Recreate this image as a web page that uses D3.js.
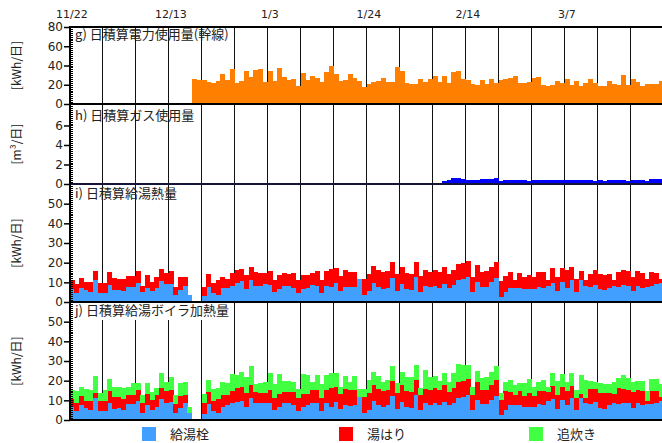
<!DOCTYPE html>
<html>
<head>
<meta charset="utf-8">
<script src="https://cdn.jsdelivr.net/npm/d3@7"></script>
<style>
  body { margin: 0; background: #fff; }
  svg { display: block; font-family: "Noto Sans CJK JP", "DejaVu Sans", sans-serif; }
</style>
</head>
<body>
<svg id="chart" width="662" height="443"></svg>
<script>
// ---- data -------------------------------------------------------------
// daily records from 11/22 (day 0) through 3/28 (day 125)
const dayCount = 126;
const dateTicks = [0, 21, 42, 63, 84, 105];
const dateTickLabels = ["11/22", "12/13", "1/3", "1/24", "2/14", "3/7"];

// g) daily electricity, main line [kWh/day], recorded from day 26
const elecStart = 26;
const elecValues = [
  26,25,25,23,22,24,31,25,36,22,24,34,28,35,36,23,34,24,37,28,25,26,19,32,25,29,27,23,33,39,31,24,25,
  31,27,24,18,21,23,24,27,23,23,38,34,22,21,21,26,23,26,29,23,29,22,33,34,26,25,21,20,25,21,26,22,25,
  26,27,29,22,22,23,27,28,20,19,20,24,22,26,20,24,19,22,26,22,19,19,24,21,20,30,20,26,23,19,21,21,21,24
];

// h) daily gas [m3/day], recorded from day 79
const gasStart = 79;
const gasValues = [
  0.35,0.45,0.6,0.6,0.55,0.45,0.4,0.45,0.5,0.5,0.5,0.6,0.3,0.4,0.45,0.45,0.4,0.4,0.35,0.4,
  0.45,0.4,0.4,0.45,0.4,0.45,0.4,0.4,0.45,0.45,0.4,0.4,0.35,0.4,0.35,0.45,0.45,0.4,0.4,0.35,
  0.45,0.4,0.4,0.35,0.5,0.5,0.5
];

// i) daily hot-water heat [kWh/day]: tap / bath filling (null = no record)
const heatTap = [
  6.7,4.7,7.2,6.2,5.2,11.3,4.7,4.7,8.7,5.9,6.2,5.7,7.7,7.7,9.7,5.2,7.2,5.7,7.2,10.6,9.2,9.2,3.7,6.2,8.2,3.7,
  null,null,
  3.2,7.7,4.7,3.7,7.2,7.2,8.2,9.7,10.6,6.7,11.3,8.2,8.2,9.2,8.7,5.2,6.7,8.2,8.2,7.2,4.7,6.7,7.2,8.7,8.2,4.7,8.2,
  7.6,9.7,5.7,7.7,7.7,7.4,11.8,3.7,5.7,9.7, 7.7,6.7,7.2,12.3,5.7,9.2,6.7,6.2,12.8,5.2,
  8.2,7.7,8.2,7.2,9.2,7.2,8.7,11.3,11.8,12.8, 5.2,10.3,7.7,7.7,10.3,12.3,2.7,5.2,7.2,7.2,
  7.2,6.7,6.7,6.7,7.7,7.2,8.2,9.7,5.7,10.3, 7.2,11.3,5.2,11.3,8.2,7.7,8.7,6.7,6.2,7.2,
  8.2,7.7,8.7,8.2,5.7,8.2,7.2,7.7,8.2,9.2, 9.7
];
const heatBath = [
  4.4,4.4,4.9,3.9,4.9,4.3,4.9,4.9,6.4,6.2,5.4,5.9,5.4,5.4,5.9,3.0,6.4,4.6,5.4,6.0,5.4,6.4,4.0,6.4,4.4,0,
  null,null,
  4.5,6.4,4.9,7.4,5.4,4.4,6.4,6.4,6.0,6.9,6.3,6.9,6.4,5.4,6.9,5.9,6.9,6.4,5.9,7.4,6.4,6.9,6.4,5.9,7.4,6.4,7.4,
  9.0,7.4,7.4,8.4,7.6,7.9,0,8.1,8.6,8.6, 8.4,8.4,8.6,8.0,8.6,8.6,8.1,8.1,7.5,8.1,
  8.1,7.6,8.1,8.1,8.6,7.1,7.6,8.0,8.0,8.0, 7.6,8.5,7.6,8.1,7.5,8.0,8.1,8.1,8.1,4.1,
  7.6,6.1,7.1,6.1,7.6,8.1,3.1,7.6,7.1,7.0, 9.1,6.5,6.6,4.5,3.1,6.6,7.6,7.6,7.6,7.1,
  3.1,7.6,7.6,7.6,7.1,7.6,7.6,4.1,7.1,5.6, 2.1
];

// j) daily boiler heating [kWh/day]: tap / bath filling / reheating
const boilTap = [
  6.8,4.8,7.4,6.3,5.3,11.3,4.8,4.8,8.7,5.8,6.3,5.3,7.9,7.9,9.8,3.8,7.4,5.3,6.8,10.8,8.7,9.2,3.8,6.3,8.4,3.8,
  null,null,
  3.3,7.9,4.8,3.8,6.8,7.4,8.4,9.2,9.8,6.8,11.3,8.4,8.4,8.7,8.7,5.3,6.8,8.4,8.4,7.4,4.8,6.8,7.4,8.4,8.4,4.8,8.4,
  6.8,9.4,5.8,7.4,7.2,7.4,11.8,3.8,5.3,9.8, 7.4,6.8,7.4,12.3,5.8,9.4,6.8,6.3,12.8,5.3,
  8.4,7.4,8.4,7.4,9.4,7.4,8.7,11.3,11.8,12.8, 5.3,10.3,7.9,7.9,10.3,12.3,2.7,5.3,7.4,7.4,
  7.4,6.8,6.8,6.8,7.9,7.4,9.8,10.8,5.8,10.3, 7.4,11.3,5.3,11.3,8.4,7.9,9.4,6.3,5.8,7.4,
  8.4,7.9,8.7,8.4,6.3,8.4,7.4,7.9,7.9,8.7, 9.8
];
const boilBath = [
  4.0,3.6,4.9,3.5,4.5,2.6,5.0,5.0,6.2,6.0,5.5,5.5,4.9,4.9,5.6,4.6,6.0,5.0,6.0,5.6,6.2,6.2,4.1,6.0,4.4,0,
  null,null,
  5.1,6.5,5.0,7.0,6.0,5.4,6.5,7.2,7.2,7.1,6.7,6.0,5.5,5.2,6.7,6.0,6.6,6.0,6.0,7.0,6.5,6.6,6.0,7.0,7.0,6.5,7.0,
  9.6,7.6,7.6,8.5,8.2,8.0,0,8.0,8.6,8.2, 8.5,8.1,8.0,7.6,8.1,8.6,8.1,8.1,7.6,7.5,
  7.5,8.0,8.0,8.0,8.6,7.0,7.7,8.0,8.1,8.1, 7.5,9.0,7.5,7.5,7.7,8.1,7.6,9.6,7.0,5.4,
  7.5,5.5,7.1,5.5,7.0,7.5,4.6,6.7,7.0,6.7, 7.5,6.2,6.0,2.1,2.9,8.0,6.5,7.6,8.1,6.5,
  5.0,8.5,7.2,7.0,8.1,7.0,7.5,1.9,7.0,6.2, 2.0
];
const boilReheat = [
  4.6,6.5,4.7,6.1,5.6,8.7,4.1,5.6,6.0,5.2,5.2,5.6,4.2,6.0,3.4,4.4,5.4,4.1,3.6,7.6,4.4,6.5,4.9,6.5,6.5,3.0,
  null,null,
  5.0,6.0,6.1,5.6,6.5,6.0,8.6,6.5,7.5,8.0,9.4,3.9,4.9,5.4,8.6,7.0,10.1,5.5,5.5,4.9,4.6,10.1,9.5,3.9,7.5,7.0,7.5,
  7.6,7.0,3.6,6.5,3.9,7.0,4.0,4.1,6.5,6.5, 6.5,4.4,5.0,7.8,4.9,6.5,7.0,7.5,7.5,3.6,
  9.6,6.5,6.0,4.5,6.0,4.9,7.6,9.1,8.0,7.0, 4.2,5.7,6.0,6.5,6.5,7.0,3.6,4.4,6.0,5.0,
  3.9,6.5,7.0,4.7,4.4,5.5,2.6,6.5,7.1,6.5, 4.4,6.5,4.1,9.5,9.1,4.0,3.4,4.9,4.4,4.4,
  5.9,5.0,7.0,6.0,4.9,4.5,5.0,5.1,6.0,6.0, 6.5
];

const legendNames = ["給湯栓", "湯はり", "追炊き"];
const stackColors = ["#41a0ff", "#ff0000", "#41ff41"];

// ---- layout -------------------------------------------------------------
const svg = d3.select("#chart");
const axisX = 70, plotRight = 662;
const x = d3.scaleBand().domain(d3.range(dayCount)).range([69.5, 663.5]).padding(0);
const bw = x.bandwidth();

const panels = {
  g: { top: 27,  bottom: 104, max: 80,  ticks: [0, 20, 40, 60, 80], minor: 2,   title: "g) 日積算電力使用量(幹線)", unit: "[kWh/日]", titleY: 33.5 },
  h: { top: 104, bottom: 184, max: 8.2, ticks: [0, 2, 4, 6],        minor: 0.2, title: "h) 日積算ガス使用量",       unit: "[m³/日]",  titleY: 115 },
  i: { top: 184, bottom: 302, max: 60,  ticks: [0, 10, 20, 30, 40, 50], minor: 1, title: "i) 日積算給湯熱量",    unit: "[kWh/日]", titleY: 193 },
  j: { top: 302, bottom: 420, max: 60,  ticks: [0, 10, 20, 30, 40, 50], minor: 1, title: "j) 日積算給湯ボイラ加熱量", unit: "[kWh/日]", titleY: 310 }
};
Object.values(panels).forEach(p => {
  p.y = d3.scaleLinear().domain([0, p.max]).range([p.bottom, p.top]);
});

svg.append("rect").attr("width", 662).attr("height", 443).attr("fill", "#fff");

// weekly vertical grid lines
const gridG = svg.append("g");
d3.range(7, dayCount, 7).forEach(d => {
  const gx = Math.floor(x(d)) + 0.5;
  gridG.append("line")
    .attr("x1", gx).attr("x2", gx).attr("y1", 27).attr("y2", 420)
    .attr("stroke", "#111").attr("stroke-width", 1);
});

// ---- bars ------------------------------------------------------------
const barsG = svg.append("g").attr("shape-rendering", "crispEdges");

// g) electricity
barsG.append("g").selectAll("rect")
  .data(elecValues.map((v, k) => ({ day: elecStart + k, v })))
  .join("rect")
  .attr("x", d => x(d.day)).attr("width", bw + 0.3)
  .attr("y", d => panels.g.y(d.v))
  .attr("height", d => panels.g.y(0) - panels.g.y(d.v))
  .attr("fill", "#ff8000");

// h) gas
barsG.append("g").selectAll("rect")
  .data(gasValues.map((v, k) => ({ day: gasStart + k, v })))
  .join("rect")
  .attr("x", d => x(d.day)).attr("width", bw + 0.3)
  .attr("y", d => panels.h.y(d.v))
  .attr("height", d => panels.h.y(0) - panels.h.y(d.v))
  .attr("fill", "#0000ff");

// stacked panels i and j
function drawStack(panel, series) {
  const keys = series.map((s, k) => "s" + k);
  const rows = d3.range(dayCount)
    .filter(d => series[0][d] != null)
    .map(d => {
      const r = { day: d };
      series.forEach((s, k) => r["s" + k] = s[d]);
      return r;
    });
  const stacked = d3.stack().keys(keys)(rows);
  const g = barsG.append("g");
  stacked.forEach((layer, k) => {
    g.append("g").attr("fill", stackColors[k])
      .selectAll("rect").data(layer).join("rect")
      .attr("x", d => x(d.data.day)).attr("width", bw + 0.3)
      .attr("y", d => panel.y(d[1]))
      .attr("height", d => Math.max(0, panel.y(d[0]) - panel.y(d[1])));
  });
}
drawStack(panels.i, [heatTap, heatBath]);
drawStack(panels.j, [boilTap, boilBath, boilReheat]);

// ---- panel frames, titles and axes --------------------------------------
// panel j's caption sits on an opaque box
svg.append("rect").attr("x", 72).attr("y", 303).attr("width", 142).attr("height", 17).attr("fill", "#fff");

Object.values(panels).forEach(p => {
  svg.append("text")
    .attr("x", 75).attr("y", p.titleY + 5)
    .attr("font-size", 13).attr("fill", "#222")
    .text(p.title);

  svg.append("text")
    .attr("transform", `translate(17,${(p.top + p.bottom) / 2}) rotate(-90)`)
    .attr("text-anchor", "middle").attr("dy", "0.35em")
    .attr("font-size", 12).attr("fill", "#222")
    .text(p.unit);

  // dense minor ticks inside the plot
  const minorVals = d3.range(0, p.max + 1e-9, p.minor).filter(v => p.y(v) >= p.top + 1);
  svg.append("g").attr("transform", `translate(${axisX},0)`)
    .call(d3.axisLeft(p.y).tickValues(minorVals).tickSize(-3).tickFormat(""))
    .call(g => g.select(".domain").remove())
    .call(g => g.selectAll("line").attr("stroke", "#000").attr("shape-rendering", "crispEdges"));

  // labelled major ticks outside
  svg.append("g").attr("transform", `translate(${axisX},0)`)
    .call(d3.axisLeft(p.y).tickValues(p.ticks).tickSize(6).tickPadding(1).tickFormat(d3.format("d")))
    .call(g => g.select(".domain").remove())
    .call(g => g.selectAll("line").attr("stroke", "#000").attr("stroke-width", 1.5))
    .call(g => g.selectAll("text")
      .attr("font-family", "DejaVu Sans, sans-serif")
      .attr("font-size", 12).attr("fill", "#222"));
});

// horizontal frame lines between panels
[[27, "#000"], [104, "#000"], [184, "#14143c"], [302, "#000"], [420, "#000"]].forEach(([yy, c]) => {
  svg.append("line")
    .attr("x1", axisX - 1).attr("x2", plotRight).attr("y1", yy).attr("y2", yy)
    .attr("stroke", c).attr("stroke-width", 2);
});
// vertical axis line
svg.append("line")
  .attr("x1", axisX).attr("x2", axisX).attr("y1", 26).attr("y2", 421)
  .attr("stroke", "#000").attr("stroke-width", 2);

// date labels along the top
svg.append("g").selectAll("text")
  .data(dateTicks)
  .join("text")
  .attr("x", (d, k) => x(d) + bw / 2)
  .attr("y", 18)
  .attr("text-anchor", "middle")
  .attr("font-family", "DejaVu Sans, sans-serif")
  .attr("font-size", 11).attr("fill", "#222")
  .text((d, k) => dateTickLabels[k]);

// ---- legend ------------------------------------------------------------
const legendX = [142, 339, 529];
const legendTextX = [170, 367, 557];
legendNames.forEach((name, k) => {
  svg.append("rect")
    .attr("x", legendX[k]).attr("y", 427).attr("width", 14).attr("height", 14)
    .attr("fill", stackColors[k]);
  svg.append("text")
    .attr("x", legendTextX[k]).attr("y", 439)
    .attr("font-size", 13).attr("fill", "#222")
    .text(name);
});
</script>
</body>
</html>
